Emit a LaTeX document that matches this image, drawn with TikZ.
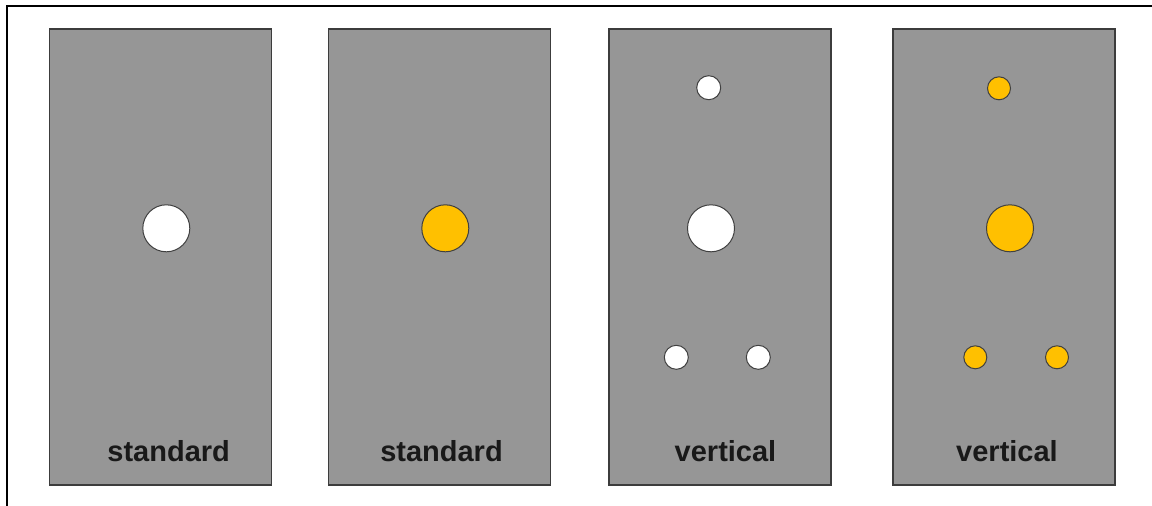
\documentclass[tikz,border=0pt]{standalone}
\usepackage{fontspec}
\setmainfont{Liberation Sans}
\usepackage{tikz}
\usetikzlibrary{positioning}
\definecolor{panelgray}{RGB}{150,150,150}
\definecolor{panelline}{RGB}{60,60,60}
\definecolor{holeorange}{RGB}{255,192,0}
\tikzstyle{panel} = [draw=panelline, fill=panelgray, rectangle, line width=1.5pt, minimum width=222pt, minimum height=456pt]
\tikzstyle{hole} = [draw=black!75, fill=white, circle, inner sep=0pt, line width=1pt]
\tikzstyle{lit} = [hole, fill=holeorange]
\tikzstyle{big} = [minimum size=47pt]
\tikzstyle{small} = [minimum size=24pt]
\tikzstyle{caption} = [anchor=base, text=black!90, font=\bfseries\fontsize{29}{29}\selectfont]

\begin{document}
\begin{tikzpicture}[x=1pt,y=-1pt]
    \useasboundingbox (0,0) rectangle (1152,506);
    % frame, only top and left visible
    \draw [line width=2.5pt] (1152,6) -| (7,506);

    \node [panel] (panel1) at (160.4,257) {};
    \node [panel] (panel2) at (439.7,257) {};
    \node [panel] (panel3) at (719.9,257) {};
    \node [panel] (panel4) at (1004.2,257) {};

    \node [hole, big] (hole1) at (166.3,228.3) {};
    \node [lit, big] (hole2) at (445.3,228.3) {};

    \node [hole, small] (top3) at (708.7,87.7) {};
    \node [hole, big] (mid3) at (711,228.3) {};
    \node [hole, small] (left3) at (676.3,357.3) {};
    \node [hole, small] (right3) at (758.3,357.3) {};

    \node [lit, small, minimum size=23pt] (top4) at (999,88.3) {};
    \node [lit, big] (mid4) at (1010,228.3) {};
    \node [lit, small, minimum size=23pt] (left4) at (975.3,357.3) {};
    \node [lit, small, minimum size=23pt] (right4) at (1057,357.3) {};

    \node [caption] (label1) at (168.7,461) {standard};
    \node [caption] (label2) at (441.5,461) {standard};
    \node [caption] (label3) at (725.5,461) {vertical};
    \node [caption] (label4) at (1007,461) {vertical};
\end{tikzpicture}
\end{document}
